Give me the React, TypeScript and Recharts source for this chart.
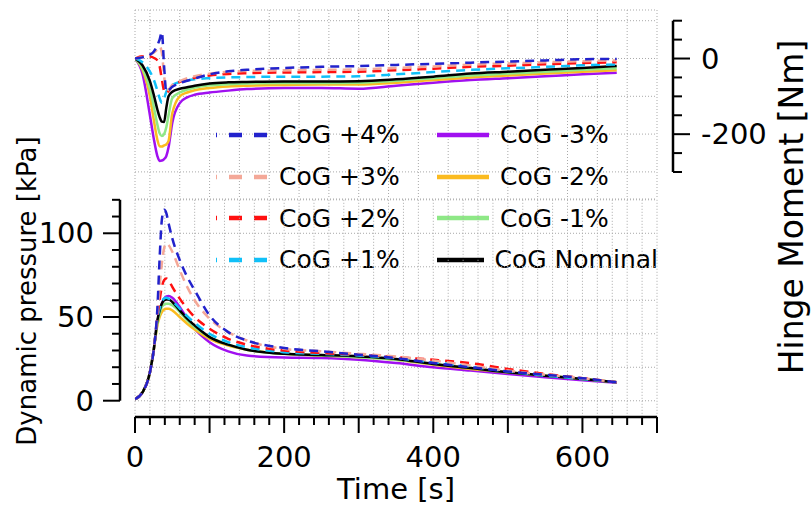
import React from 'react';
import { LineChart, Line, XAxis, YAxis, CartesianGrid, Legend } from 'recharts';

// sample times [s]
const time = [0, 10, 20, 25, 30, 33, 36, 39, 42, 45, 50, 60, 70, 80, 100, 125, 150, 200, 250, 300, 350, 400, 450, 500, 550, 600, 646];

// dynamic pressure [kPa]
const pressurePlus4 = [1, 5, 17, 30, 55, 85, 108, 114, 112, 106, 97, 84, 74, 66, 51, 41, 36, 31.5, 29.5, 27.5, 25.5, 22.5, 20, 17.5, 15.5, 13.5, 11];
const pressurePlus3 = [1, 5, 17, 30, 52, 68, 82, 91, 94, 93, 89, 78, 68, 60, 49, 41, 36, 31, 29.5, 28, 26.5, 24, 21, 18, 15.5, 13.5, 11];
const pressurePlus2 = [1, 5, 17, 30, 50, 60, 68, 72, 73, 72, 68, 61, 55, 50, 43, 37, 33.5, 30, 28.5, 27.5, 26, 24.5, 22.5, 19, 16, 13.5, 11];
const pressurePlus1 = [1, 5, 17, 30, 49, 55, 59, 61, 61.5, 61, 59.5, 55, 50.5, 46.5, 40, 35, 32, 29, 28, 27, 25.5, 23, 20.5, 17.5, 15, 13, 11];
const pressureMinus3 = [1, 5, 17, 30, 47, 53, 58, 61, 62.3, 62.5, 61.5, 56, 49, 43, 35, 29.5, 27, 25.8, 25.5, 24.5, 22.5, 20, 18, 16, 14, 12.3, 10.8];
const pressureMinus2 = [1, 5, 17, 30, 45, 50, 53, 54.5, 55, 55, 54, 50, 46, 42.5, 37, 33, 30.5, 28, 27, 26, 24.5, 21.5, 19, 17, 15, 13, 11];
const pressureMinus1 = [1, 5, 17, 30, 46, 52, 56, 57.5, 58, 58, 57, 53, 48, 44, 38, 33.5, 30.5, 28, 27, 26, 24.5, 22, 19.5, 17, 15, 13, 11];
const pressureNominal = [1, 5, 17, 30, 48, 54, 58, 60, 60.5, 60.5, 59, 54, 49, 45, 38, 33.5, 30.5, 28, 27.3, 26.5, 25, 22, 19.5, 17, 15, 13, 11];

// hinge moment [Nm]
const momentPlus4 = [0, 3, 10, 18, 35, 50, 70, -20, -88, -84, -75, -65, -59, -53, -42, -34, -30, -25, -22, -20, -17, -14, -11, -8, -5, -2, -1];
const momentPlus3 = [0, 4, 10, 15, 24, 32, 15, -45, -86, -82, -70, -60, -52, -47, -40, -35, -33, -31, -30, -29, -25, -21, -16, -13, -10, -7, -5];
const momentPlus2 = [0, 6, 5, 2, -5, -20, -55, -85, -92, -86, -73, -62, -56, -51, -45, -41, -39, -37, -36, -35, -31, -27, -22, -19, -15, -12, -10];
const momentPlus1 = [0, -10, -35, -55, -85, -105, -117, -106, -88, -78, -70, -62, -58, -55, -52, -50, -49, -48, -48, -47, -42, -36, -30, -26, -22, -18, -16];
const momentMinus3 = [0, -40, -150, -210, -258, -271, -270, -266, -258, -235, -170, -118, -103, -96, -90, -85, -81, -78, -78, -80, -72, -64, -57, -52, -47, -42, -38];
const momentMinus2 = [0, -30, -100, -160, -215, -232, -233, -230, -227, -218, -145, -100, -90, -84, -78, -74, -72, -70, -69, -69, -64, -57, -50, -45, -40, -35, -31];
const momentMinus1 = [0, -25, -80, -125, -175, -198, -205, -200, -182, -150, -105, -90, -82, -77, -71, -68, -66, -65, -65, -64, -59, -52, -45, -40, -35, -30, -26];
const momentNominal = [0, -18, -60, -95, -135, -155, -167, -168, -130, -100, -88, -80, -76, -72, -66, -63, -62, -61, -61, -60, -55, -48, -40, -35, -30, -25, -20];

// axis ticks
const timeTicks = [0, 20, 40, 60, 80, 100, 120, 140, 160, 180, 200, 220, 240, 260, 280, 300, 320, 340, 360, 380, 400, 420, 440, 460, 480, 500, 520, 540, 560, 580, 600, 620, 640, 660, 680, 700];
const pressureTicks = [0, 10, 20, 30, 40, 50, 60, 70, 80, 90, 100, 110, 120];
const momentTicks = [-300, -250, -200, -150, -100, -50, 0, 50, 100];
const momentGridTicks = [-350, -300, -250, -200, -150, -100, -50, 0, 50, 100];

const SERIES = [
  { key: 'plus4', name: 'CoG +4%', color: '#2222cc', dashed: true, pressure: pressurePlus4, moment: momentPlus4 },
  { key: 'plus3', name: 'CoG +3%', color: '#f4a898', dashed: true, pressure: pressurePlus3, moment: momentPlus3 },
  { key: 'plus2', name: 'CoG +2%', color: '#ff1010', dashed: true, pressure: pressurePlus2, moment: momentPlus2 },
  { key: 'plus1', name: 'CoG +1%', color: '#10c0f8', dashed: true, pressure: pressurePlus1, moment: momentPlus1 },
  { key: 'minus3', name: 'CoG -3%', color: '#a010f0', dashed: false, pressure: pressureMinus3, moment: momentMinus3 },
  { key: 'minus2', name: 'CoG -2%', color: '#fbbb20', dashed: false, pressure: pressureMinus2, moment: momentMinus2 },
  { key: 'minus1', name: 'CoG -1%', color: '#8ee886', dashed: false, pressure: pressureMinus1, moment: momentMinus1 },
  { key: 'nominal', name: 'CoG Nominal', color: '#000000', dashed: false, pressure: pressureNominal, moment: momentNominal },
];

// solid curves underneath, dashed ones on top
const drawOrder = [...SERIES.filter((s) => !s.dashed), ...SERIES.filter((s) => s.dashed).reverse()];

const rows = time.map((t, i) => {
  const row: Record<string, number> = { t };
  SERIES.forEach((s) => {
    row[`${s.key}_q`] = s.pressure[i];
    row[`${s.key}_m`] = s.moment[i];
  });
  return row;
});

const W = 811;
const H = 510;
const FONT = '"DejaVu Sans", Verdana, sans-serif';
const GRID = { stroke: '#a9a9a9', strokeDasharray: '1 2', strokeWidth: 1 };
const AXIS_LINE = { stroke: '#000', strokeWidth: 2.5 };

const TimeTick = (props: any) => {
  const { x, y, payload } = props;
  const v = payload.value;
  return (
    <g>
      <line x1={x} x2={x} y1={y} y2={y + (v % 100 === 0 ? 16 : 8)} stroke="#000" strokeWidth={2} />
      {v % 200 === 0 && (
        <text x={x} y={y + 50} textAnchor="middle" fontSize={29} fill="#000">
          {v}
        </text>
      )}
    </g>
  );
};

const PressureTick = (props: any) => {
  const { x, y, payload } = props;
  const v = payload.value;
  const major = v % 50 === 0;
  return (
    <g>
      <line x1={x - (major ? 17 : 8)} x2={x} y1={y} y2={y} stroke="#000" strokeWidth={2} />
      {major && (
        <text x={x - 26} y={y} textAnchor="end" dominantBaseline="central" fontSize={29} fill="#000">
          {v}
        </text>
      )}
    </g>
  );
};

const MomentTick = (props: any) => {
  const { x, y, payload } = props;
  const v = payload.value;
  const major = v % 200 === 0;
  return (
    <g>
      <line x1={x} x2={x + (major ? 17 : 9)} y1={y} y2={y} stroke="#000" strokeWidth={2} />
      {major && (
        <text x={x + 28} y={y} textAnchor="start" dominantBaseline="central" fontSize={29} fill="#000">
          {v}
        </text>
      )}
    </g>
  );
};

const CogLegend = () => (
  <div
    style={{
      display: 'grid',
      gridTemplateColumns: '221px 221px',
      gridTemplateRows: 'repeat(4, 41.7px)',
      gridAutoFlow: 'column',
      fontFamily: FONT,
    }}
  >
    {SERIES.map((s) => (
      <div key={s.key} style={{ display: 'flex', alignItems: 'center' }}>
        <svg width={52} height={8}>
          <line
            x1={0}
            x2={52}
            y1={4}
            y2={4}
            stroke={s.color}
            strokeWidth={4.5}
            strokeDasharray={s.dashed ? '13 12' : undefined}
            strokeDashoffset={s.dashed ? 12 : undefined}
          />
        </svg>
        <span style={{ marginLeft: 11, fontSize: 25, color: '#000', whiteSpace: 'nowrap' }}>{s.name}</span>
      </div>
    ))}
  </div>
);

const layer: React.CSSProperties = { position: 'absolute', left: 0, top: 0 };

const Title = ({ text, cx, cy, size, rotate }: { text: string; cx: number; cy: number; size: number; rotate?: boolean }) => (
  <div
    style={{
      position: 'absolute',
      left: cx,
      top: cy,
      transform: `translate(-50%, -50%)${rotate ? ' rotate(-90deg)' : ''}`,
      fontSize: size,
      lineHeight: 1,
      whiteSpace: 'nowrap',
      color: '#000',
    }}
  >
    {text}
  </div>
);

export default function App() {
  return (
    <div style={{ position: 'absolute', left: 0, top: 0, width: W, height: H, background: '#fff', fontFamily: FONT, overflow: 'hidden' }}>
      {/* hinge moment panel */}
      <div style={layer}>
        <LineChart width={W} height={H} data={rows} margin={{ top: 10, right: 154, bottom: 311, left: 135 }}>
          <CartesianGrid {...GRID} />
          <XAxis type="number" dataKey="t" domain={[0, 700]} ticks={timeTicks} hide allowDataOverflow />
          <YAxis type="number" domain={[-371.7, 128.3]} ticks={momentGridTicks} hide allowDataOverflow />
          {drawOrder.map((s) => (
            <Line
              key={s.key}
              type="monotone"
              dataKey={`${s.key}_m`}
              name={s.name}
              stroke={s.color}
              strokeWidth={2.5}
              strokeDasharray={s.dashed ? '9 6' : undefined}
              dot={false}
              isAnimationActive={false}
            />
          ))}
          <Legend
            layout="vertical"
            align="center"
            verticalAlign="middle"
            content={() => <CogLegend />}
            wrapperStyle={{ left: 216, top: 114, width: 444, height: 167 }}
          />
        </LineChart>
      </div>

      {/* dynamic pressure panel with time axis */}
      <div style={layer}>
        <LineChart width={W} height={H} data={rows} margin={{ top: 199.8, right: 154, bottom: 33, left: 135 }}>
          <CartesianGrid {...GRID} />
          <XAxis
            type="number"
            dataKey="t"
            domain={[0, 700]}
            ticks={timeTicks}
            interval={0}
            height={60}
            tickSize={0}
            tickMargin={0}
            tickLine={false}
            axisLine={AXIS_LINE}
            tick={<TimeTick />}
            allowDataOverflow
          />
          <YAxis type="number" domain={[-9.7, 120]} ticks={pressureTicks} hide allowDataOverflow />
          {drawOrder.map((s) => (
            <Line
              key={s.key}
              type="monotone"
              dataKey={`${s.key}_q`}
              name={s.name}
              stroke={s.color}
              strokeWidth={2.5}
              strokeDasharray={s.dashed ? '9 6' : undefined}
              dot={false}
              isAnimationActive={false}
            />
          ))}
        </LineChart>
      </div>

      {/* left pressure axis */}
      <div style={layer}>
        <LineChart width={W} height={H} data={rows} margin={{ top: 199.8, right: 154, bottom: 109.3, left: 20 }}>
          <XAxis type="number" dataKey="t" domain={[0, 700]} hide />
          <YAxis
            type="number"
            domain={[0, 120]}
            ticks={pressureTicks}
            interval={0}
            width={100}
            tickSize={0}
            tickMargin={0}
            tickLine={false}
            axisLine={AXIS_LINE}
            tick={<PressureTick />}
            allowDataOverflow
          />
        </LineChart>
      </div>

      {/* right hinge moment axis */}
      <div style={layer}>
        <LineChart width={W} height={H} data={rows} margin={{ top: 20.7, right: 38, bottom: 338, left: 0 }}>
          <XAxis type="number" dataKey="t" domain={[0, 700]} hide />
          <YAxis
            type="number"
            orientation="right"
            domain={[-300, 100]}
            ticks={momentTicks}
            interval={0}
            width={100}
            tickSize={0}
            tickMargin={0}
            tickLine={false}
            axisLine={AXIS_LINE}
            tick={<MomentTick />}
            allowDataOverflow
          />
        </LineChart>
      </div>

      <Title text="Time [s]" cx={396} cy={489} size={29} />
      <Title text="Dynamic pressure [kPa]" cx={27} cy={291} size={26} rotate />
      <Title text="Hinge Moment [Nm]" cx={791} cy={207} size={33} rotate />
    </div>
  );
}
